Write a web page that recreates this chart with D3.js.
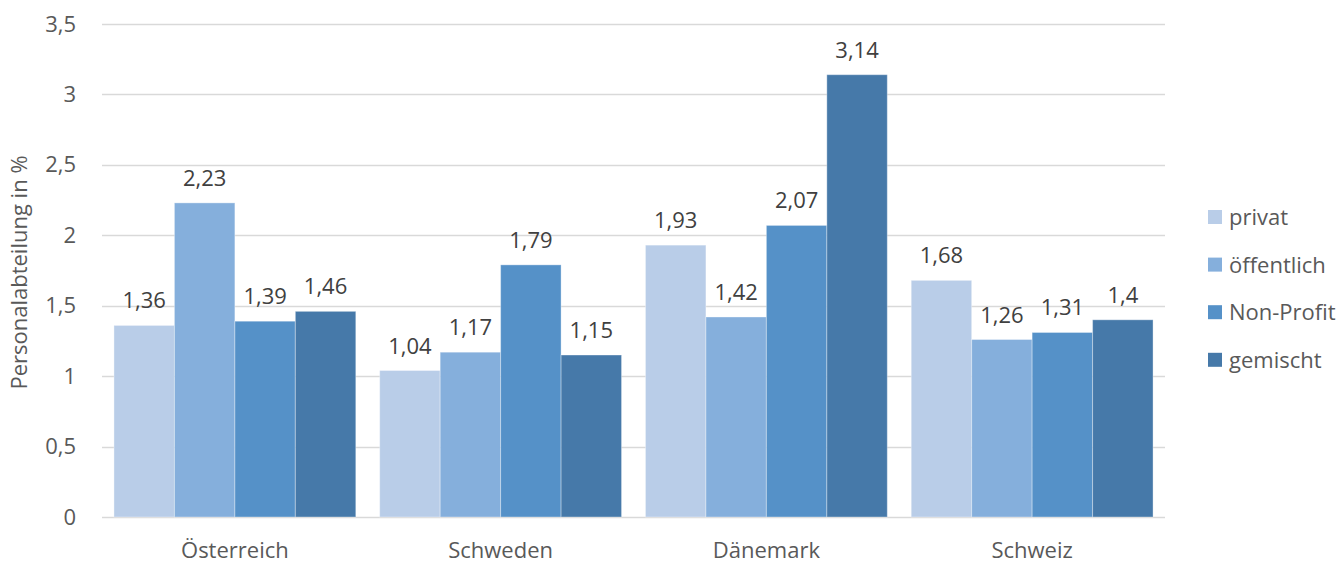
<!DOCTYPE html>
<html>
<head>
<meta charset="utf-8">
<script src="https://cdn.jsdelivr.net/npm/d3@7"></script>
<style>
  html, body { margin: 0; padding: 0; background: #fff; }
  svg { display: block; font-family: "Open Sans", "Noto Sans", sans-serif; }
</style>
</head>
<body>
<svg id="chart" width="1344" height="563"></svg>
<script>
// Countries along the x axis
const countries = ["Österreich", "Schweden", "Dänemark", "Schweiz"];
// Organisation types (one bar each per country)
const sectors = ["privat", "öffentlich", "Non-Profit", "gemischt"];
// Share of HR staff in %, one array per sector, in country order
const privat = [1.36, 1.04, 1.93, 1.68];
const oeffentlich = [2.23, 1.17, 1.42, 1.26];
const nonProfit = [1.39, 1.79, 2.07, 1.31];
const gemischt = [1.46, 1.15, 3.14, 1.4];
// Y axis ticks
const yTicks = [0, 0.5, 1, 1.5, 2, 2.5, 3, 3.5];

const seriesValues = [privat, oeffentlich, nonProfit, gemischt];
const colors = ["#b9cde8", "#85afdc", "#5591c8", "#4679a9"];
const fmt = v => String(v).replace(".", ",");
const FS = "22px";

const svg = d3.select("#chart");
const plot = { left: 102, right: 1165, top: 24, bottom: 517 };

const x0 = d3.scaleBand()
  .domain(countries)
  .range([plot.left, plot.right])
  .paddingInner(0.09)
  .paddingOuter(0.045);

const x1 = d3.scaleBand()
  .domain(sectors)
  .range([0, x0.bandwidth()]);

const y = d3.scaleLinear()
  .domain([0, 3.5])
  .range([plot.bottom, plot.top]);

// Gridlines
svg.append("g")
  .selectAll("line")
  .data(yTicks)
  .join("line")
  .attr("x1", plot.left)
  .attr("x2", plot.right)
  .attr("y1", d => Math.round(y(d)) + 0.5)
  .attr("y2", d => Math.round(y(d)) + 0.5)
  .attr("stroke", "#d9d9d9")
  .attr("stroke-width", 1.3);

// Y axis labels
const yAxis = svg.append("g")
  .attr("transform", `translate(${plot.left},0)`)
  .call(d3.axisLeft(y).tickValues(yTicks).tickFormat(fmt).tickSize(0).tickPadding(26));
yAxis.select(".domain").remove();
yAxis.selectAll("text")
  .attr("fill", "#595959")
  .style("font-size", FS)
  .style("font-family", "Open Sans, sans-serif");

// X axis labels
const xAxis = svg.append("g")
  .attr("transform", `translate(0,${plot.bottom})`)
  .call(d3.axisBottom(x0).tickSize(0).tickPadding(25));
xAxis.select(".domain").remove();
xAxis.selectAll("text")
  .attr("fill", "#595959")
  .style("font-size", FS)
  .style("font-family", "Open Sans, sans-serif");

// Bars
const rows = [];
countries.forEach((c, i) => {
  sectors.forEach((s, j) => rows.push({ country: c, sector: s, si: j, value: seriesValues[j][i] }));
});

svg.append("g")
  .selectAll("rect")
  .data(rows)
  .join("rect")
  .attr("x", d => x0(d.country) + x1(d.sector))
  .attr("y", d => y(d.value))
  .attr("width", x1.bandwidth())
  .attr("height", d => y(0) - y(d.value))
  .attr("fill", d => colors[d.si])
  .attr("stroke", "rgba(255,255,255,0.35)")
  .attr("stroke-width", 1);

// Value labels
svg.append("g")
  .selectAll("text")
  .data(rows)
  .join("text")
  .attr("x", d => x0(d.country) + x1(d.sector) + x1.bandwidth() / 2)
  .attr("y", d => y(d.value) - 17)
  .attr("text-anchor", "middle")
  .attr("fill", "#404040")
  .style("font-size", FS)
  .text(d => fmt(d.value));

// Y axis title
svg.append("text")
  .attr("transform", `translate(27,${(plot.top + plot.bottom) / 2 + 2}) rotate(-90)`)
  .attr("text-anchor", "middle")
  .attr("fill", "#595959")
  .style("font-size", FS)
  .text("Personalabteilung in %");

// Legend
const legend = svg.append("g")
  .selectAll("g")
  .data(sectors)
  .join("g")
  .attr("transform", (d, i) => `translate(1208,${217 + i * 47.6})`);
legend.append("rect")
  .attr("x", 0)
  .attr("y", -7)
  .attr("width", 14)
  .attr("height", 14)
  .attr("fill", (d, i) => colors[i]);
legend.append("text")
  .attr("x", 21)
  .attr("y", 8)
  .attr("fill", "#595959")
  .style("font-size", FS)
  .text(d => d);
</script>
</body>
</html>
